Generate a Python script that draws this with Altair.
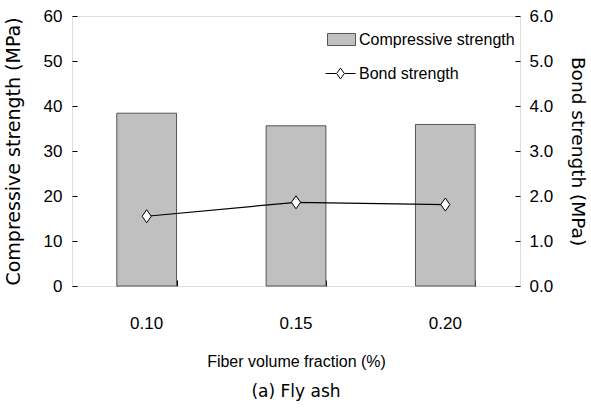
import altair as alt
import pandas as pd

# ---- data ----
fractions = ["0.10", "0.15", "0.20"]
compressive = [38.4, 35.6, 35.9]          # MPa (bars, left axis)
bond = [1.55, 1.86, 1.81]                 # MPa (line, right axis)
comp_ticks = [0, 10, 20, 30, 40, 50, 60]
bond_ticks = [0.0, 1.0, 2.0, 3.0, 4.0, 5.0, 6.0]
series_names = ["Compressive strength", "Bond strength"]

df = pd.DataFrame({"frac": fractions, "comp": compressive, "bond": bond,
                   "s_comp": [series_names[0]] * 3, "s_bond": [series_names[1]] * 3})

NARROW = "Liberation Sans"
NORMAL = "DejaVu Sans"
W, H = 448, 270

xscale = alt.Scale(domain=fractions, paddingInner=0.6, paddingOuter=0.3)
cscale = alt.Scale(domain=[0, 60], nice=False)
bscale = alt.Scale(domain=[0, 6], nice=False)

rect_sym = "M-1,-0.43H1V0.43H-1Z"
line_sym = "M-1,0H-0.3M0.3,0H1M0,-0.36L0.26,0L0,0.36L-0.26,0Z"
diamond = "M0,-1L0.7,0L0,1L-0.7,0Z"

bars = alt.Chart(df).mark_bar(stroke="#555555", strokeWidth=1).encode(
    x=alt.X("frac:O", scale=xscale, axis=alt.Axis(
        orient="bottom", title="Fiber volume fraction (%)", labelAngle=0,
        ticks=False, domain=False, labelPadding=29, titlePadding=22,
        labelFont=NARROW, labelFontSize=17, titleFont=NARROW, titleFontSize=16,
        titleFontWeight="normal")),
    y=alt.Y("comp:Q", scale=cscale, axis=alt.Axis(
        orient="left", values=comp_ticks, title="Compressive strength (MPa)",
        ticks=False, domain=False, grid=False, labelPadding=10, titlePadding=20,
        labelFont=NARROW, labelFontSize=17, titleFont=NORMAL, titleFontSize=19,
        titleFontWeight="normal")),
    fill=alt.Fill("s_comp:N",
        scale=alt.Scale(domain=[series_names[0]], range=["#c0c0c0"]),
        legend=alt.Legend(title=None, orient="none", legendX=255, legendY=9,
                          symbolType=rect_sym, symbolSize=784,
                          symbolStrokeColor="#555555", symbolStrokeWidth=1,
                          labelFont=NARROW, labelFontSize=16, labelColor="black",
                          labelOffset=3, labelLimit=400)),
)

line = alt.Chart(df).mark_line(strokeWidth=1.2).encode(
    x=alt.X("frac:O", scale=xscale, axis=None),
    y=alt.Y("bond:Q", scale=bscale, axis=alt.Axis(
        orient="right", values=bond_ticks, format=".1f", title="Bond strength (MPa)",
        ticks=False, domain=False, grid=False, labelPadding=9, titlePadding=15,
        labelFont=NARROW, labelFontSize=17, titleFont=NORMAL, titleFontSize=18.5,
        titleFontWeight="normal")),
    stroke=alt.Stroke("s_bond:N",
        scale=alt.Scale(domain=[series_names[1]], range=["black"]),
        legend=alt.Legend(title=None, orient="none", legendX=253, legendY=42,
                          symbolType=line_sym, symbolSize=900,
                          symbolStrokeColor="black", symbolFillColor="white",
                          symbolStrokeWidth=1,
                          labelFont=NARROW, labelFontSize=16, labelColor="black",
                          labelOffset=3, labelLimit=400)),
)

points = alt.Chart(df).mark_point(shape=diamond, filled=True, fill="white",
                                  stroke="black", strokeWidth=1, size=169,
                                  opacity=1).encode(
    x=alt.X("frac:O", scale=xscale, axis=None),
    y=alt.Y("bond:Q", scale=bscale, axis=None),
)

# inward tick marks (bottom edge, left edge)
ticks_a = alt.Chart(df).mark_point(opacity=0).encode(
    x=alt.X("frac:O", scale=xscale, axis=alt.Axis(
        orient="top", offset=-H, labels=False, domain=False, title=None,
        tickSize=6, tickBand="extent", tickColor="black")),
    y=alt.Y("comp:Q", scale=cscale, axis=alt.Axis(
        orient="right", offset=-W, values=comp_ticks, labels=False, domain=False,
        grid=False, title=None, tickSize=5, tickColor="black")),
)
# inward tick marks (right edge)
ticks_b = alt.Chart(df).mark_point(opacity=0).encode(
    x=alt.X("frac:O", scale=xscale, axis=None),
    y=alt.Y("bond:Q", scale=bscale, axis=alt.Axis(
        orient="left", offset=-W, values=bond_ticks, labels=False, domain=False,
        grid=False, title=None, tickSize=5, tickColor="black")),
)

chart = alt.layer(bars, line, points, ticks_a, ticks_b).resolve_scale(
    x="independent", y="independent", fill="independent", stroke="independent"
).resolve_axis(x="independent", y="independent").properties(
    width=W, height=H,
    title=alt.TitleParams("(a)  Fly  ash", orient="bottom", anchor="middle",
                          frame="group", fontSize=17, font=NORMAL,
                          fontWeight="normal", offset=15, color="black"),
    autosize=alt.AutoSizeParams(type="none"),
    padding={"left": 72, "top": 16, "right": 591 - 72 - W, "bottom": 412 - 16 - H},
).configure_view(stroke="black", strokeWidth=1.2).configure_axis(
    labelColor="black", titleColor="black"
).configure(background="white")

chart.save("out.html", embed_options={"renderer": "svg", "actions": False})
